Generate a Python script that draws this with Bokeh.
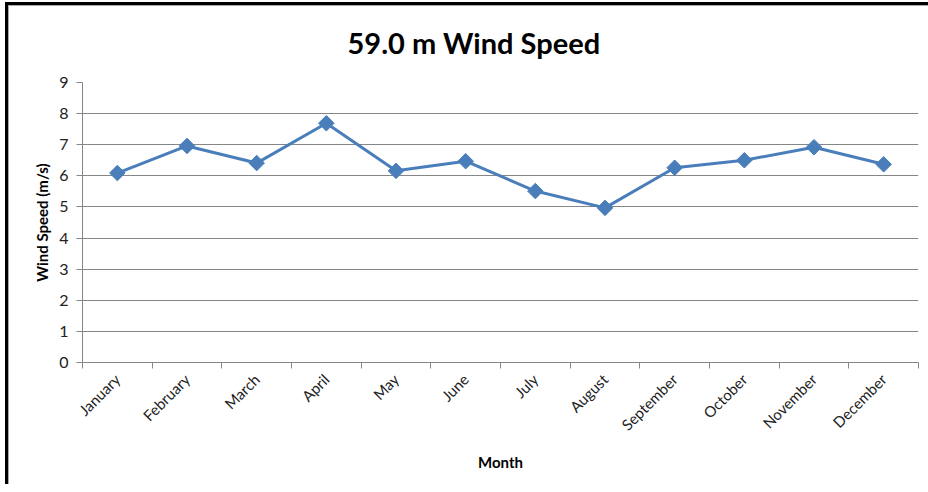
from bokeh.plotting import figure
from bokeh.models import FixedTicker, Range1d, ColumnDataSource
from bokeh.embed import file_html
from bokeh.resources import INLINE
import math

months = ["January", "February", "March", "April", "May", "June", "July",
          "August", "September", "October", "November", "December"]
speed = [6.09, 6.96, 6.41, 7.69, 6.16, 6.47, 5.51, 4.97, 6.26, 6.50, 6.92, 6.37]
y_ticks = [0, 1, 2, 3, 4, 5, 6, 7, 8, 9]

xpos = [i + 0.5 for i in range(len(months))]
src = ColumnDataSource(data=dict(x=xpos, y=speed, m=months))

p = figure(width=928, height=484, output_backend="svg", toolbar_location=None,
           x_range=Range1d(0, len(months)), y_range=Range1d(0, 9),
           title="59.0 m Wind Speed",
           min_border_left=82, min_border_right=10, min_border_top=81, min_border_bottom=122)
p.styles = {"box-shadow": "inset 5px 2px 0 0 white, inset 8px 5px 0 0 black, inset 9px 6px 0 0 #aaaaaa",
            "background-color": "white"}

p.title.align = "left"
p.title.text_font = "Lato"
p.title.text_font_size = "29px"
p.title.text_font_style = "bold"
p.title.text_color = "black"
p.title.offset = 265
p.title.standoff = 45

p.outline_line_color = None
p.background_fill_color = "white"
p.border_fill_color = None

# x axis
p.xaxis.ticker = FixedTicker(ticks=xpos, minor_ticks=list(range(len(months) + 1)))
p.xaxis.major_label_overrides = {x: m for x, m in zip(xpos, months)}
p.xaxis.major_tick_line_color = None
p.xaxis.minor_tick_line_color = "#868686"
p.xaxis.minor_tick_out = 6
p.xaxis.minor_tick_in = 0
p.xaxis.axis_line_color = "#868686"
p.xaxis.major_label_orientation = math.pi / 4
p.xaxis.major_label_text_font = "Lato"
p.xaxis.major_label_text_font_size = "15px"
p.xaxis.major_label_text_color = "#222222"
p.xaxis.major_label_standoff = 8
p.xaxis.axis_label = "Month"
p.xaxis.axis_label_text_font = "Lato"
p.xaxis.axis_label_text_font_size = "15px"
p.xaxis.axis_label_text_font_style = "bold"
p.xaxis.axis_label_text_color = "black"
p.xaxis.axis_label_standoff = 10
p.xgrid.grid_line_color = None

# y axis
p.yaxis.ticker = FixedTicker(ticks=y_ticks)
p.yaxis.axis_line_color = "#868686"
p.yaxis.major_tick_line_color = "#868686"
p.yaxis.major_tick_out = 6
p.yaxis.major_tick_in = 0
p.yaxis.minor_tick_line_color = None
p.yaxis.major_label_text_font = "Lato"
p.yaxis.major_label_text_font_size = "16px"
p.yaxis.major_label_text_color = "#222222"
p.yaxis.major_label_standoff = 8
p.yaxis.axis_label = "Wind Speed (m/s)"
p.yaxis.axis_label_text_font = "Lato"
p.yaxis.axis_label_text_font_size = "15px"
p.yaxis.axis_label_text_font_style = "bold"
p.yaxis.axis_label_text_color = "black"
p.yaxis.axis_label_standoff = 5
p.ygrid.grid_line_color = "#868686"
p.ygrid.grid_line_width = 1

p.line("x", "y", source=src, line_color="#4A7EBB", line_width=3)
p.scatter("x", "y", source=src, marker="square", size=11, angle=math.pi / 4,
          fill_color="#4A7EBB", line_color="#4A7EBB")

open("out.html", "w").write(file_html(p, INLINE))
